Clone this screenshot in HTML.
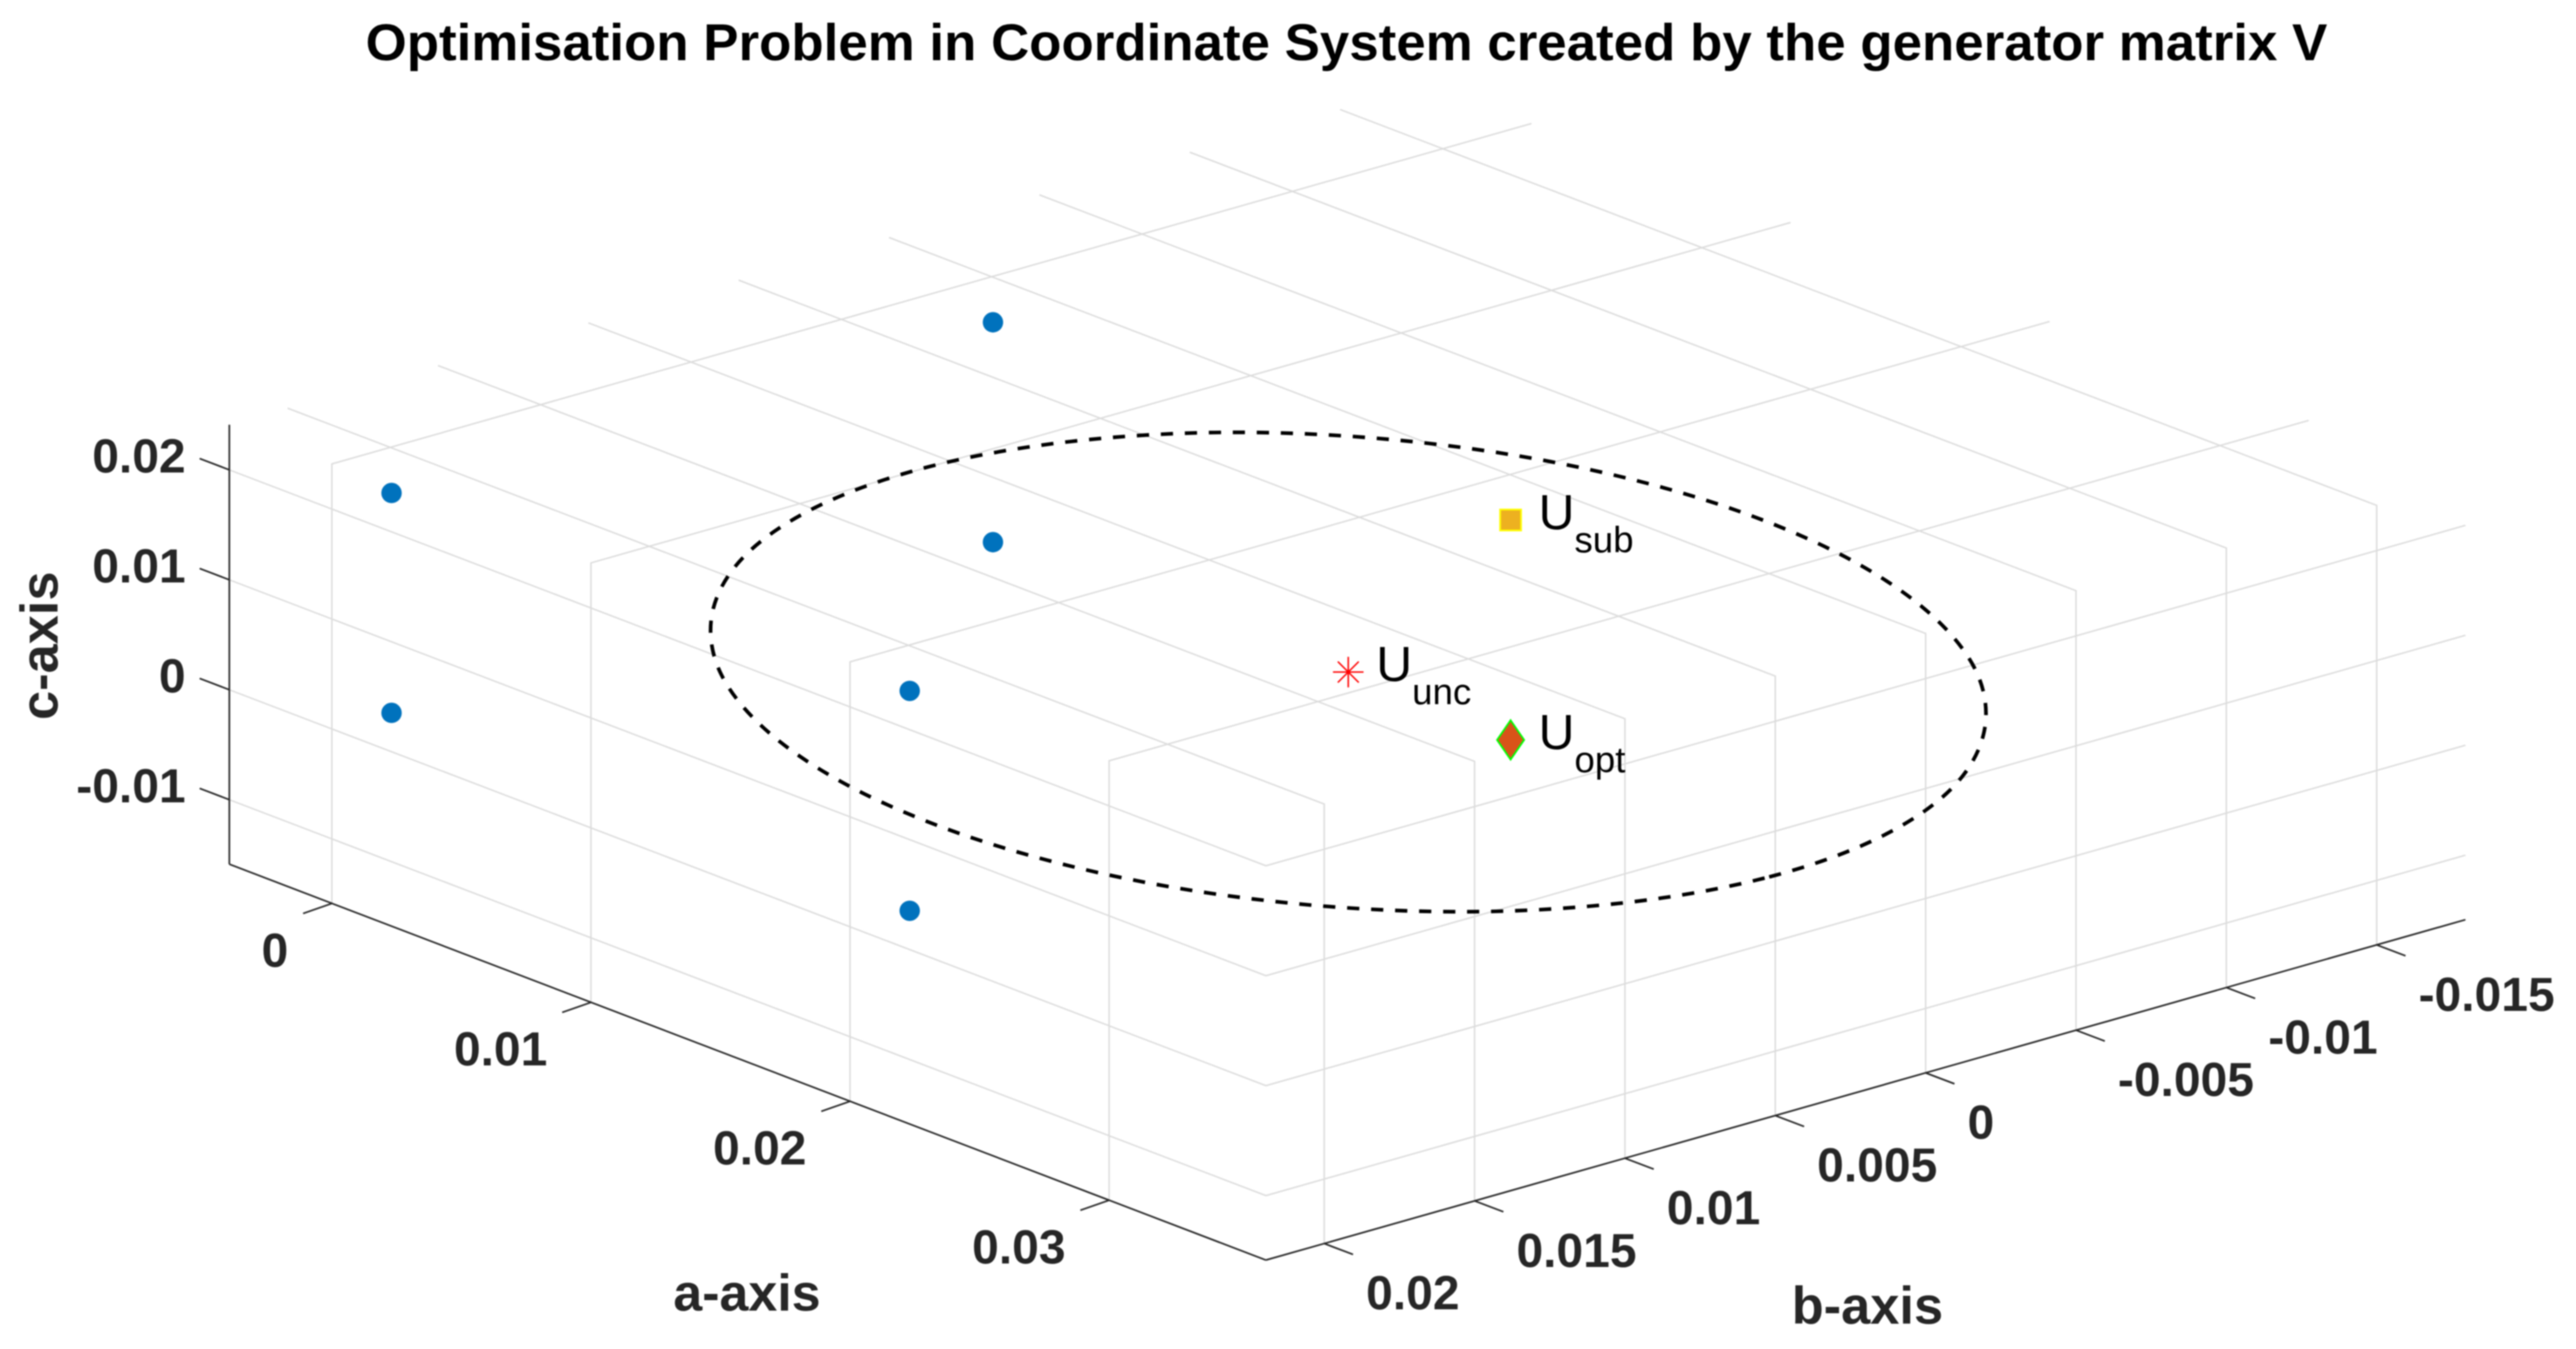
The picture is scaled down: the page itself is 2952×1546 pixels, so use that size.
<!DOCTYPE html>
<html lang="en">
<head>
<meta charset="utf-8">
<title>Optimisation Problem in Coordinate System</title>
<style>
html,body{margin:0;padding:0;background:#fff;}
svg{display:block;font-family:"Liberation Sans",Arial,sans-serif;filter:blur(0.7px);}
</style>
</head>
<body>
<svg id="chart" xmlns="http://www.w3.org/2000/svg" width="2952" height="1546" viewBox="0 0 2952 1546">
  <rect x="0" y="0" width="2952" height="1546" fill="#ffffff"/>
  <g id="grid"></g>
  <g id="axes"></g>
  <g id="ticklabels" font-weight="700" font-size="55" fill="#262626"></g>
  <g id="series"></g>
  <text x="419" y="69" font-size="59" font-weight="700" fill="#000000" textLength="2248" lengthAdjust="spacingAndGlyphs">Optimisation Problem in Coordinate System created by the generator matrix V</text>
  <text x="856" y="1502" font-size="59.5" font-weight="700" fill="#262626" text-anchor="middle">a-axis</text>
  <text x="2140" y="1517" font-size="60" font-weight="700" fill="#262626" text-anchor="middle">b-axis</text>
  <text transform="translate(66 740) rotate(-90)" font-size="60" font-weight="700" fill="#262626" text-anchor="middle">c-axis</text>
</svg>
<script>
// ---- axis ticks and labels ----
const aTicks = [0, 0.01, 0.02, 0.03];
const aTickLabels = ["0", "0.01", "0.02", "0.03"];
const bTicks = [-0.015, -0.01, -0.005, 0, 0.005, 0.01, 0.015, 0.02];
const bTickLabels = ["-0.015", "-0.01", "-0.005", "0", "0.005", "0.01", "0.015", "0.02"];
const cTicks = [-0.01, 0, 0.01, 0.02];
const cTickLabels = ["-0.01", "0", "0.01", "0.02"];

// ---- axis limits ----
const aLimits = [-0.00396, 0.03605];
const bLimits = [-0.01795, 0.02194];
const cLimits = [-0.01587, 0.0241];

// ---- polytope vertices (blue dots) ----
const vertexA = [0.00005, 0.00005, 0.00005, 0.00005, 0.02005, 0.02005];
const vertexB = [0, 0, 0.02, 0.02, 0.02, 0.02];
const vertexC = [0, 0.02, 0, 0.02, 0, 0.02];

// ---- named solutions ----
const uSub = [0.02003, 0, 0.02];
const uUnc = [0.0198, 0.0052, 0.01];
const uOpt = [0.02003, 0, 0];

// ---- dashed constraint ellipse ----
const ellipseA = [0.03587,0.03532,0.03372,0.03116,0.02784,0.02396,0.01980,0.01564,0.01176,0.00844,0.00588,0.00428,0.00373,0.00428,0.00588,0.00844,0.01176,0.01564,0.01980,0.02396,0.02784,0.03116,0.03372,0.03532];
const ellipseB = [0.00520,0.00936,0.01324,0.01656,0.01912,0.02072,0.02127,0.02072,0.01912,0.01656,0.01324,0.00936,0.00520,0.00104,-0.00284,-0.00616,-0.00872,-0.01032,-0.01087,-0.01032,-0.00872,-0.00616,-0.00284,0.00104];
const ellipseC = [0.00572,0.00622,0.00697,0.00793,0.00904,0.01020,0.01136,0.01242,0.01332,0.01399,0.01439,0.01448,0.01428,0.01378,0.01303,0.01207,0.01096,0.00980,0.00864,0.00758,0.00668,0.00601,0.00561,0.00552];

// ---- orthographic projection ----
function px(a, b) { return 1136.4 + 29690 * a - 34460 * b; }
function py(a, b, c) { return 620.8 + 11340 * a + 9780 * b - 12600 * c; }

const NS = "http://www.w3.org/2000/svg";
function make(parent, tag, attrs) {
  const el = document.createElementNS(NS, tag);
  for (const k in attrs) el.setAttribute(k, attrs[k]);
  parent.appendChild(el);
  return el;
}
function polyPoints(pts) {
  return pts.map(p => px(p[0], p[1]).toFixed(1) + "," + py(p[0], p[1], p[2]).toFixed(1)).join(" ");
}

const gridG = document.getElementById("grid");
const axesG = document.getElementById("axes");
const labelG = document.getElementById("ticklabels");
const seriesG = document.getElementById("series");
const [aMin, aMax] = aLimits;
const [bMin, bMax] = bLimits;
const [cMin, cMax] = cLimits;
const gridStyle = { fill: "none", stroke: "#dcdcdc", "stroke-width": 1.7 };
const axisStyle = { fill: "none", stroke: "#262626", "stroke-width": 1.9 };

// grid lines attached to a ticks
aTicks.forEach(function (a) {
  const pts = [[a, bMax, cMin], [a, bMax, cMax], [a, bMin, cMax]];
  const el = make(gridG, "polyline", Object.assign({ points: polyPoints(pts) }, gridStyle));
  
  
});
// grid lines attached to b ticks
bTicks.forEach(function (b) {
  const pts = [[aMax, b, cMin], [aMax, b, cMax], [aMin, b, cMax]];
  const el = make(gridG, "polyline", Object.assign({ points: polyPoints(pts) }, gridStyle));
  
  
});
// grid lines attached to c ticks
cTicks.forEach(function (c) {
  const pts = [[aMin, bMax, c], [aMax, bMax, c], [aMax, bMin, c]];
  const el = make(gridG, "polyline", Object.assign({ points: polyPoints(pts) }, gridStyle));
  
  
});

// axis lines
const axisA = make(axesG, "polyline", Object.assign({ points: polyPoints([[aMin, bMax, cMin], [aMax, bMax, cMin]]) }, axisStyle));


const axisB = make(axesG, "polyline", Object.assign({ points: polyPoints([[aMax, bMax, cMin], [aMax, bMin, cMin]]) }, axisStyle));


const axisC = make(axesG, "polyline", Object.assign({ points: polyPoints([[aMin, bMax, cMin], [aMin, bMax, cMax]]) }, axisStyle));



// a ticks and labels
aTicks.forEach(function (a, i) {
  const x = px(a, bMax), y = py(a, bMax, cMin);
  const t = make(axesG, "line", Object.assign({ x1: x, y1: y, x2: x - 33, y2: y + 11.5 }, axisStyle));
  
  
  const l = make(labelG, "text", { x: x - 50, y: y + 72.5, "text-anchor": "end" });
  l.textContent = aTickLabels[i];
  
  
});
// b ticks and labels
bTicks.forEach(function (b, i) {
  const x = px(aMax, b), y = py(aMax, b, cMin);
  const t = make(axesG, "line", Object.assign({ x1: x, y1: y, x2: x + 33, y2: y + 12.5 }, axisStyle));
  
  
  const l = make(labelG, "text", { x: x + 48, y: y + 75.5, "text-anchor": "start" });
  l.textContent = bTickLabels[i];
  
  
});
// c ticks and labels
cTicks.forEach(function (c, i) {
  const x = px(aMin, bMax), y = py(aMin, bMax, c);
  const t = make(axesG, "line", Object.assign({ x1: x, y1: y, x2: x - 34, y2: y - 13 }, axisStyle));
  
  
  const l = make(labelG, "text", { x: x - 50, y: y + 3, "text-anchor": "end" });
  l.textContent = cTickLabels[i];
  
  
});

// dashed ellipse: closed Catmull-Rom curve through the sampled values
const n = ellipseA.length;
const ex = ellipseA.map((a, i) => px(a, ellipseB[i]));
const ey = ellipseA.map((a, i) => py(a, ellipseB[i], ellipseC[i]));
let d = "M" + ex[0].toFixed(1) + " " + ey[0].toFixed(1);
for (let i = 0; i < n; i++) {
  const p0 = (i - 1 + n) % n, p1 = i, p2 = (i + 1) % n, p3 = (i + 2) % n;
  const c1x = ex[p1] + (ex[p2] - ex[p0]) / 6, c1y = ey[p1] + (ey[p2] - ey[p0]) / 6;
  const c2x = ex[p2] - (ex[p3] - ex[p1]) / 6, c2y = ey[p2] - (ey[p3] - ey[p1]) / 6;
  d += "C" + c1x.toFixed(1) + " " + c1y.toFixed(1) + " " + c2x.toFixed(1) + " " + c2y.toFixed(1) + " " + ex[p2].toFixed(1) + " " + ey[p2].toFixed(1);
}
const ellipse = make(seriesG, "path", { d: d + "Z", fill: "none", stroke: "#000000", "stroke-width": 4.2, "stroke-dasharray": "14 13.5" });



// blue vertices
vertexA.forEach(function (a, i) {
  const dot = make(seriesG, "circle", { cx: px(a, vertexB[i]), cy: py(a, vertexB[i], vertexC[i]), r: 11.7, fill: "#0072BD" });
  
  
});

// solution label: U with subscript
function addLabel(x, y, sub, name) {
  const t = make(seriesG, "text", { x: x + 32, y: y + 10.5, "font-size": 57, fill: "#000000" });
  
  
  const s1 = make(t, "tspan", {});
  s1.textContent = "U";
  const s2 = make(t, "tspan", { dy: 26.5, "font-size": 42 });
  s2.textContent = sub;
}

// U_sub square
const sx = px(uSub[0], uSub[1]), sy = py(uSub[0], uSub[1], uSub[2]);
const square = make(seriesG, "rect", { x: sx - 12, y: sy - 12, width: 24, height: 24, fill: "#EDB120", stroke: "#FFFF00", "stroke-width": 2 });


addLabel(sx, sy, "sub", "u-sub-label");

// U_unc star
const ux = px(uUnc[0], uUnc[1]), uy = py(uUnc[0], uUnc[1], uUnc[2]);
const star = make(seriesG, "path", {
  d: "M" + (ux - 17.5) + " " + uy + "H" + (ux + 17.5) + "M" + ux + " " + (uy - 17.5) + "V" + (uy + 17.5) +
     "M" + (ux - 12) + " " + (uy - 12) + "L" + (ux + 12) + " " + (uy + 12) +
     "M" + (ux - 12) + " " + (uy + 12) + "L" + (ux + 12) + " " + (uy - 12),
  fill: "none", stroke: "#FF0000", "stroke-width": 1.7
});


addLabel(ux, uy, "unc", "u-unc-label");

// U_opt diamond
const ox = px(uOpt[0], uOpt[1]), oy = py(uOpt[0], uOpt[1], uOpt[2]);
const diamond = make(seriesG, "polygon", {
  points: ox + "," + (oy - 22.5) + " " + (ox + 15.5) + "," + oy + " " + ox + "," + (oy + 22.5) + " " + (ox - 15.5) + "," + oy,
  fill: "#D95319", stroke: "#00FF00", "stroke-width": 2
});


addLabel(ox, oy, "opt", "u-opt-label");
</script>
</body>
</html>
